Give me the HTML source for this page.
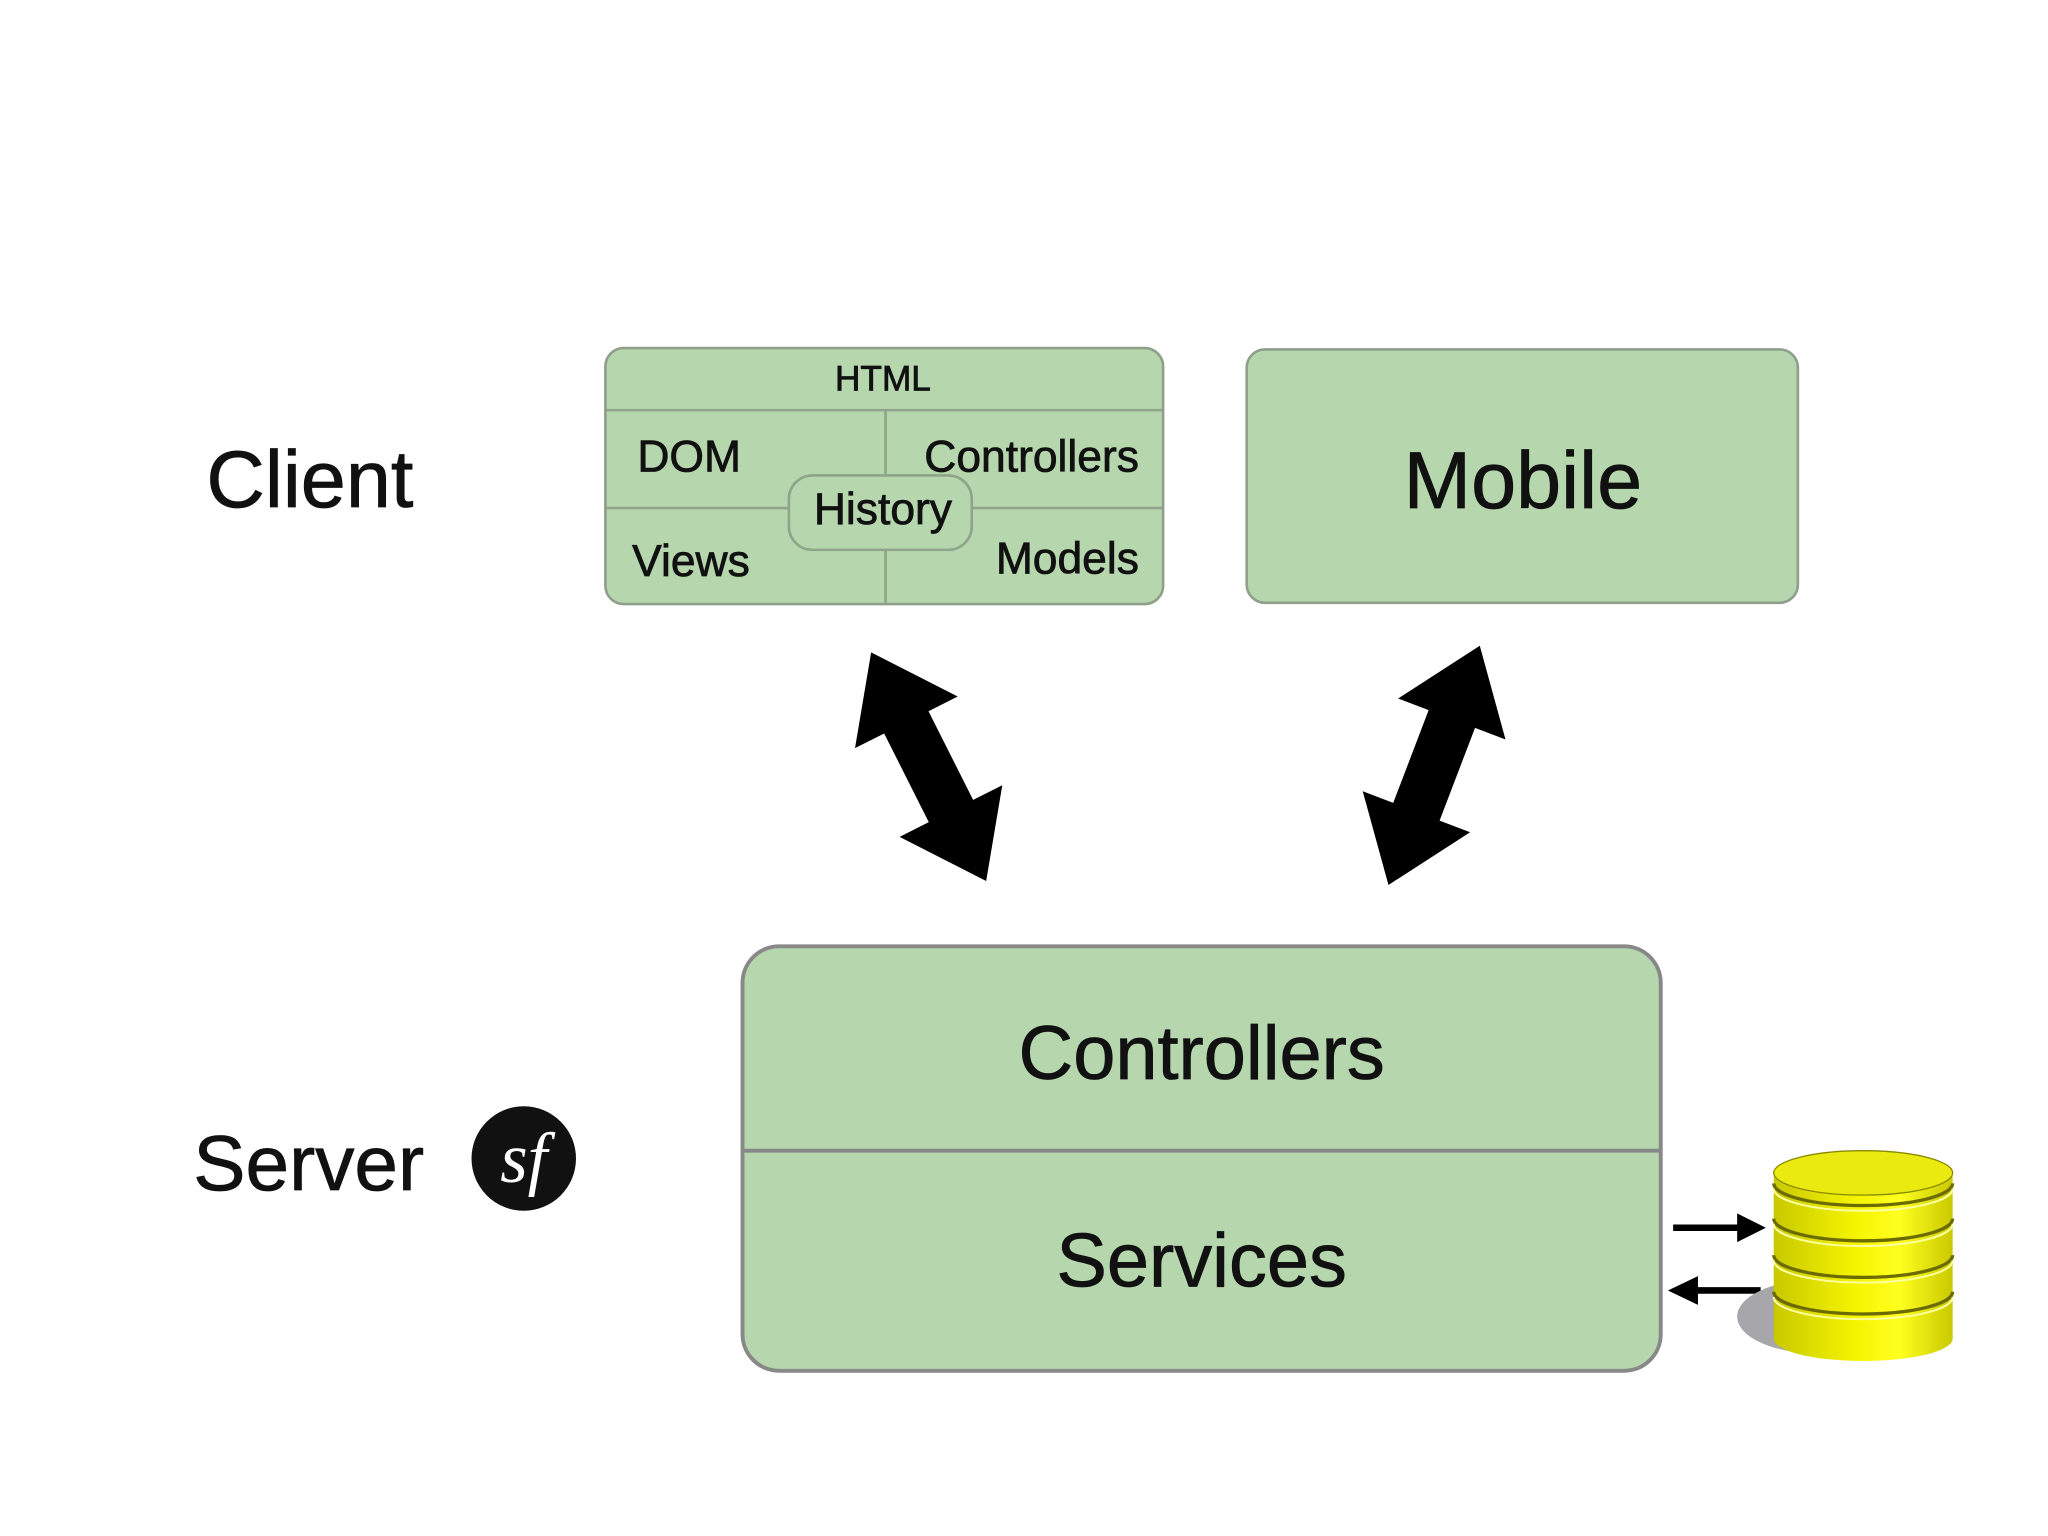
<!DOCTYPE html>
<html><head><meta charset="utf-8"><style>
html,body{margin:0;padding:0;background:#fff;}
svg{display:block;}
text{font-family:"Liberation Sans",sans-serif;fill:#111;stroke:#111;stroke-width:0.6;}
</style></head><body>
<svg width="2048" height="1536" viewBox="0 0 1568 1176" preserveAspectRatio="none" xmlns="http://www.w3.org/2000/svg">
<defs>
<linearGradient id="yg" x1="0" x2="1" y1="0" y2="0">
<stop offset="0" stop-color="#c8c800"/><stop offset="0.45" stop-color="#f4f400"/><stop offset="0.7" stop-color="#ffff20"/><stop offset="1" stop-color="#c9c900"/>
</linearGradient>
<path id="dbl" d="M-98,0 L-38,-44 L-38,-19 L38,-19 L38,-44 L98,0 L38,44 L38,19 L-38,19 L-38,44 Z"/>
</defs>
<rect width="1568" height="1176" fill="#fff"/>

<text x="158" y="388" font-size="62">Client</text>
<text x="148" y="911" font-size="60">Server</text>
<circle cx="401" cy="887" r="40" fill="#111"/>
<text x="401" y="905" font-size="54" text-anchor="middle" font-style="italic" style="fill:#fff;stroke:none;font-family:'Liberation Serif',serif">sf</text>

<!-- HTML box -->
<rect x="463.5" y="266.5" width="427" height="196" rx="14" fill="#b6d6ae" stroke="#8f9f8c" stroke-width="2"/>
<line x1="464" y1="314" x2="890" y2="314" stroke="#8fa48a" stroke-width="2"/>
<line x1="678" y1="314" x2="678" y2="462" stroke="#8fa48a" stroke-width="2"/>
<line x1="464" y1="389" x2="890" y2="389" stroke="#8fa48a" stroke-width="2"/>
<rect x="604" y="364" width="140" height="57" rx="18" fill="#b6d6ae" stroke="#8fa48a" stroke-width="2"/>
<text x="676" y="299" font-size="27" text-anchor="middle">HTML</text>
<text x="488" y="361" font-size="34">DOM</text>
<text x="872" y="361" font-size="34" text-anchor="end">Controllers</text>
<text x="676" y="401" font-size="34" text-anchor="middle">History</text>
<text x="484" y="441" font-size="34">Views</text>
<text x="872" y="439" font-size="34" text-anchor="end">Models</text>

<!-- Mobile -->
<rect x="954.5" y="267.5" width="422" height="194" rx="14" fill="#b6d6ae" stroke="#8f9f8c" stroke-width="2"/>
<text x="1166" y="389" font-size="62" text-anchor="middle">Mobile</text>

<!-- big arrows -->
<use href="#dbl" transform="translate(711,587) rotate(63.3)" fill="#000"/>
<use href="#dbl" transform="translate(1098,586) rotate(110.9)" fill="#000"/>

<!-- server box -->
<rect x="568.5" y="724.5" width="703" height="325" rx="28" fill="#b6d6ae" stroke="#888" stroke-width="3"/>
<line x1="569" y1="881" x2="1271" y2="881" stroke="#888" stroke-width="3"/>
<text x="920" y="826" font-size="58" text-anchor="middle">Controllers</text>
<text x="920" y="985" font-size="58" text-anchor="middle">Services</text>

<!-- small arrows -->
<line x1="1281" y1="940" x2="1334" y2="940" stroke="#000" stroke-width="5"/>
<polygon points="1352,940 1330,929 1330,951" fill="#000"/>
<line x1="1295" y1="988" x2="1348" y2="988" stroke="#000" stroke-width="5"/>
<polygon points="1277,988 1300,977 1300,999" fill="#000"/>

<!-- database -->
<ellipse cx="1390" cy="1008" rx="60" ry="28" fill="#a7a7ab"/>
<path d="M1358,900 L1358,1025 A68.5,17 0 0 0 1495,1025 L1495,900 Z" fill="url(#yg)"/>
<g fill="none" stroke="#6b6b00" stroke-width="2.5">
<path d="M1358,906 A68.5,17 0 0 0 1495,906"/>
<path d="M1358,933 A68.5,17 0 0 0 1495,933"/>
<path d="M1358,961 A68.5,17 0 0 0 1495,961"/>
<path d="M1358,989 A68.5,17 0 0 0 1495,989"/>
</g>
<g fill="none" stroke="#ffffa0" stroke-width="1.5">
<path d="M1358,910 A68.5,17 0 0 0 1495,910"/>
<path d="M1358,937 A68.5,17 0 0 0 1495,937"/>
<path d="M1358,965 A68.5,17 0 0 0 1495,965"/>
<path d="M1358,993 A68.5,17 0 0 0 1495,993"/>
</g>
<ellipse cx="1426.5" cy="898" rx="68.5" ry="17" fill="#eaea10" stroke="#8a8a00" stroke-width="1"/>
</svg>
</body></html>
